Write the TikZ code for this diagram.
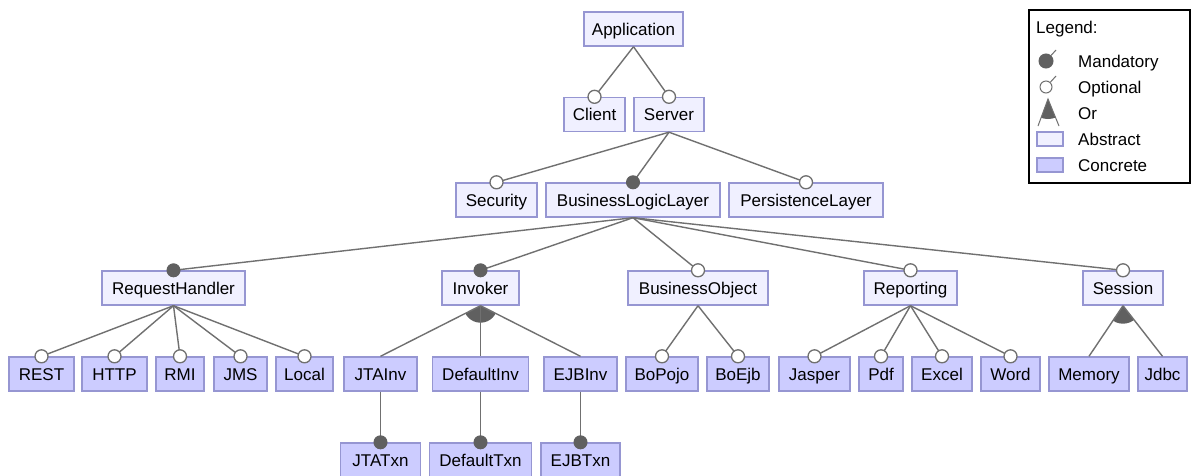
\documentclass[tikz,border=0pt]{standalone}
\usepackage{fontspec}
\setmainfont{Liberation Sans}
\usetikzlibrary{calc}
\definecolor{absfill}{RGB}{240,240,255}
\definecolor{confill}{RGB}{204,204,255}
\definecolor{fborder}{RGB}{150,150,210}
\definecolor{lgray}{RGB}{112,112,112}
\definecolor{mgray}{RGB}{96,96,96}
\newcommand\featfont{\fontsize{17}{20}\selectfont}
\tikzset{
  feat/.style={draw=fborder, line width=1.4pt, minimum height=34pt, inner sep=0pt,
    text height=12pt, text depth=0pt, font=\featfont, text=black},
  abs/.style={feat, fill=absfill},
  con/.style={feat, fill=confill},
  conn/.style={draw=lgray, line width=1.4pt},
  mand/.style={circle, fill=mgray, draw=mgray, line width=1pt, minimum size=13pt, inner sep=0pt},
  opt/.style={circle, fill=white, draw=lgray, line width=1.3pt, minimum size=13pt, inner sep=0pt},
  legtext/.style={anchor=west, font=\featfont, inner sep=0pt, text height=12pt, text depth=0pt, text=black},
}
\begin{document}
\begin{tikzpicture}[x=1pt, y=-1pt]
\useasboundingbox (0,0) rectangle (1192,475);
\fill[white] (0,0) rectangle (1192,475);

% ---------- feature nodes ----------
\node[abs, minimum width=99pt]  (app) at (633.5,29) {Application};
\node[abs, minimum width=61pt]  (client) at (594.5,114.5) {Client};
\node[abs, minimum width=70pt]  (server) at (669,114.5) {Server};

\node[abs, minimum width=81pt]  (security) at (496.5,200) {Security};
\node[abs, minimum width=174pt] (bll) at (633,200) {BusinessLogicLayer};
\node[abs, minimum width=154pt] (pl) at (806,200) {PersistenceLayer};

\node[abs, minimum width=143pt] (rh) at (173.5,288) {RequestHandler};
\node[abs, minimum width=77pt]  (inv) at (480.5,288) {Invoker};
\node[abs, minimum width=140pt] (bo) at (698,288) {BusinessObject};
\node[abs, minimum width=93pt]  (rep) at (910.5,288) {Reporting};
\node[abs, minimum width=80pt]  (ses) at (1123,288) {Session};

\node[con, minimum width=65pt] (rest) at (41.5,374) {REST};
\node[con, minimum width=65pt] (http) at (114.5,374) {HTTP};
\node[con, minimum width=48pt] (rmi) at (180,374) {RMI};
\node[con, minimum width=53pt] (jms) at (240.5,374) {JMS};
\node[con, minimum width=57pt] (local) at (304.5,374) {Local};

\node[con, minimum width=73pt] (jtainv) at (380.5,374) {JTAInv};
\node[con, minimum width=96pt] (definv) at (480.5,374) {DefaultInv};
\node[con, minimum width=73pt] (ejbinv) at (580.5,374) {EJBInv};

\node[con, minimum width=72pt] (bopojo) at (662,374) {BoPojo};
\node[con, minimum width=62pt] (boejb) at (738,374) {BoEjb};

\node[con, minimum width=71pt] (jasper) at (814.5,374) {Jasper};
\node[con, minimum width=44pt] (pdf) at (881,374) {Pdf};
\node[con, minimum width=60pt] (excel) at (942,374) {Excel};
\node[con, minimum width=59pt] (word) at (1010.5,374) {Word};

\node[con, minimum width=80pt] (memory) at (1089,374) {Memory};
\node[con, minimum width=49pt] (jdbc) at (1162.5,374) {Jdbc};

\node[con, minimum width=80pt]  (jtatxn) at (380.5,460) {JTATxn};
\node[con, minimum width=102pt] (deftxn) at (480.5,460) {DefaultTxn};
\node[con, minimum width=79pt]  (ejbtxn) at (580.5,460) {EJBTxn};

% ---------- connectors ----------
\foreach \p/\c in {app/client, app/server,
  server/security, server/bll, server/pl,
  bll/rh, bll/inv, bll/bo, bll/rep, bll/ses,
  rh/rest, rh/http, rh/rmi, rh/jms, rh/local,
  bo/bopojo, bo/boejb,
  rep/jasper, rep/pdf, rep/excel, rep/word,
  jtainv/jtatxn, definv/deftxn, ejbinv/ejbtxn}
  \draw[conn] (\p.south) -- (\c.north);

% Or groups
\begin{scope}
  \clip (inv.south) -- ($(inv.south)!3!(jtainv.north)$) -- ($(inv.south)!3!(ejbinv.north)$) -- cycle;
  \fill[mgray] (inv.south) circle (17pt);
\end{scope}
\draw[conn] (inv.south) -- (jtainv.north);
\draw[conn] (inv.south) -- (definv.north);
\draw[conn] (inv.south) -- (ejbinv.north);

\begin{scope}
  \clip (ses.south) -- ($(ses.south)!3!(memory.north)$) -- ($(ses.south)!3!(jdbc.north)$) -- cycle;
  \fill[mgray] (ses.south) circle (18pt);
\end{scope}
\draw[conn] (ses.south) -- (memory.north);
\draw[conn] (ses.south) -- (jdbc.north);

% ---------- markers ----------
\foreach \c in {client, server, security, pl, bo, rep, ses,
  rest, http, rmi, jms, local, bopojo, boejb, jasper, pdf, excel, word}
  \node[opt] (o-\c) at (\c.north) {};
\foreach \c in {bll, rh, inv, jtatxn, deftxn, ejbtxn}
  \node[mand] (m-\c) at (\c.north) {};

% ---------- legend ----------
\node[draw=black, line width=1.3pt, minimum width=161pt, minimum height=173pt, inner sep=0pt] (legend) at (1109.5,96.5) {};
\node[legtext] (lt) at (1036,27) {Legend:};

\node[mand, minimum size=14pt] (lmand) at (1046,61) {};
\coordinate (lmandend) at (1056,50);
\draw[conn, line width=1pt] (lmand) -- (lmandend);
\node[legtext] (ltmand) at (1078,61) {Mandatory};

\node[opt, minimum size=12pt, line width=1pt] (lopt) at (1046,87) {};
\coordinate (loptend) at (1056,76);
\draw[conn, line width=1pt] (lopt) -- (loptend);
\node[legtext] (ltopt) at (1078,87) {Optional};

\coordinate (lorapex) at (1048,99);
\coordinate (lorl) at (1038,126);
\coordinate (lorr) at (1059,126);
\begin{scope}
  \clip (lorapex) -- ($(lorapex)!2!(lorl)$) -- ($(lorapex)!2!(lorr)$) -- cycle;
  \fill[mgray] (lorapex) circle (20pt);
\end{scope}
\draw[conn, line width=1pt] (lorl) -- (lorapex) -- (lorr);
\node[legtext] (ltor) at (1078,113) {Or};

\node[feat, fill=absfill, minimum width=26pt, minimum height=14pt] (labs) at (1050,139) {};
\node[legtext] (ltabs) at (1078,139) {Abstract};
\node[feat, fill=confill, minimum width=26pt, minimum height=14pt] (lcon) at (1050,165) {};
\node[legtext] (ltcon) at (1078,165) {Concrete};
\end{tikzpicture}
\end{document}
